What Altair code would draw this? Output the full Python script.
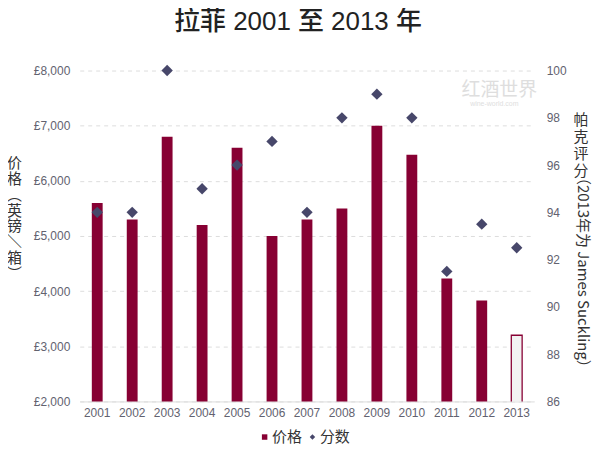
import altair as alt
import pandas as pd

years = ["2001", "2002", "2003", "2004", "2005", "2006", "2007",
         "2008", "2009", "2010", "2011", "2012", "2013"]
prices = [5600, 5300, 6800, 5200, 6600, 5000, 5300, 5500, 7000, 6475, 4230, 3830, 3200]
scores = [94, 94, 100, 95, 96, 97, 94, 98, 99, 98, 91.5, 93.5, 92.5]
hollow_year = "2013"
price_ticks = [2000, 3000, 4000, 5000, 6000, 7000, 8000]
score_ticks = [86, 88, 90, 92, 94, 96, 98, 100]
series_names = ["价格", "分数"]

RED = "#870033"
NAVY = "#47476a"
TICK = "#62626f"
CJK = "Noto Sans CJK SC"
LAT = "Liberation Sans"
MIX = "Liberation Sans, Noto Sans CJK SC"

df = pd.DataFrame({"year": years, "price": prices, "score": scores})

W, H = 456, 332

xenc = alt.X("year:N", sort=years,
             scale=alt.Scale(paddingInner=0.69, paddingOuter=0.345),
             axis=alt.Axis(title=None, labelAngle=0, labelFont=LAT, labelFontSize=12,
                           labelColor=TICK, ticks=False, domainColor="#dcdcdc",
                           labelPadding=6))

yprice_scale = alt.Scale(domain=[2000, 8000], nice=False, zero=False)
yprice_axis = alt.Axis(values=price_ticks,
                       labelExpr="'£' + format(datum.value, ',')",
                       labelFont=LAT, labelFontSize=12, labelColor=TICK,
                       labelPadding=10, domain=False, ticks=False,
                       grid=True, gridDash=[4, 4], gridColor="#dddddd",
                       title=["价", "格", "︵", "英", "镑", "＼", "箱", "︶"],
                       titleAngle=0, titleFont=CJK, titleFontSize=15,
                       titleFontWeight="normal", titleColor="#333333",
                       titleLineHeight=16, titleX=-66, titleY=85,
                       titleAlign="center", titleBaseline="top")

color_scale = alt.Scale(domain=series_names, range=[RED, NAVY])
legend = alt.Legend(title=None, orient="none", direction="horizontal",
                    legendX=178, legendY=360, labelFont=CJK, labelFontSize=15,
                    labelColor="#333333", symbolSize=30, labelOffset=0,
                    columnPadding=2, symbolStrokeWidth=0)

base = alt.Chart(df)

bars = base.transform_filter(alt.datum.year != hollow_year).transform_calculate(
    series="'价格'"
).mark_bar(clip=True).encode(
    x=xenc,
    y=alt.Y("price:Q", scale=yprice_scale, axis=yprice_axis),
    color=alt.Color("series:N", scale=color_scale, legend=legend),
)

bar_hollow = base.transform_filter(alt.datum.year == hollow_year).mark_bar(
    fill="#f2f2f2", stroke=RED, strokeWidth=1.3, clip=True
).encode(
    x=xenc,
    y=alt.Y("price:Q", scale=yprice_scale, axis=yprice_axis),
)

left = alt.layer(bars, bar_hollow)

points = base.transform_calculate(series="'分数'").mark_point(
    filled=True, size=130, opacity=1
).encode(
    x=xenc,
    y=alt.Y("score:Q", scale=alt.Scale(domain=[86, 100], nice=False, zero=False),
            axis=alt.Axis(orient="right", values=score_ticks, labelFont=LAT,
                          labelFontSize=12, labelColor=TICK, labelPadding=12,
                          domain=False, ticks=False, grid=False,
                          title="（2013年为 James Suckling）", titleAngle=90,
                          titleFont=CJK, titleFontSize=15, titleFontWeight="normal",
                          titleColor="#333333", titleX=48, titleY=202,
                          titleAlign="center", titleBaseline="middle")),
    color=alt.Color("series:N", scale=color_scale, legend=legend),
    shape=alt.Shape("series:N", scale=alt.Scale(domain=series_names,
                                                range=["square", "diamond"]),
                    legend=legend),
)

one = pd.DataFrame({"k": [0]})
parker = alt.Chart(one).mark_text(
    text=["帕", "克", "评", "分"], font=CJK, fontSize=15, lineHeight=17,
    align="center", baseline="top", color="#333333"
).encode(x=alt.value(503), y=alt.value(43))

wm1 = alt.Chart(one).mark_text(
    text="红酒世界", font=CJK, fontSize=19, align="center", baseline="middle",
    color="#dedede"
).encode(x=alt.value(421), y=alt.value(20))
wm2 = alt.Chart(one).mark_text(
    text="wine-world.com", font=LAT, fontSize=7, align="center", baseline="middle",
    color="#dedede"
).encode(x=alt.value(416), y=alt.value(34))

chart = alt.layer(left, points, parker, wm1, wm2).resolve_scale(
    y="independent"
).properties(
    width=W, height=H,
    title=alt.TitleParams("拉菲 2001 至 2013 年", font=MIX, fontSize=26,
                          fontWeight=500, color="#222222", anchor="middle",
                          offset=30, dx=-9),
    autosize=alt.AutoSizeParams(type="none"),
    padding={"left": 72, "top": 62, "right": 58, "bottom": 48},
).configure_view(stroke=None).configure_legend(symbolType="square")

chart.save("out.html", embed_options={"renderer": "svg", "actions": False})
